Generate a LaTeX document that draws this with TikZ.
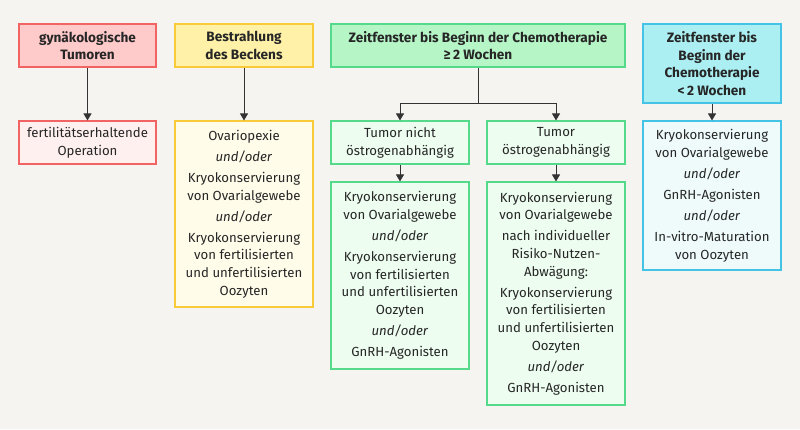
\documentclass[tikz,border=0pt]{standalone}
\usepackage{fontspec}
\setmainfont{Fira Sans}
\usetikzlibrary{arrows.meta}
\definecolor{bg}{HTML}{F5F4F1}
\definecolor{redD}{HTML}{F26464}
\definecolor{redH}{HTML}{FFCACA}
\definecolor{redL}{HTML}{FFF0F0}
\definecolor{yelD}{HTML}{F9CB3A}
\definecolor{yelH}{HTML}{FFF2A8}
\definecolor{yelL}{HTML}{FFFCEA}
\definecolor{grnD}{HTML}{55D98A}
\definecolor{grnH}{HTML}{B6F5C6}
\definecolor{grnL}{HTML}{EDFDF0}
\definecolor{cynD}{HTML}{45C3E6}
\definecolor{cynH}{HTML}{ABEFF3}
\definecolor{cynL}{HTML}{EFFBFB}
\definecolor{lineC}{HTML}{333333}
\newcommand{\uo}{\textit{und/oder}}
\tikzset{
  box/.style={draw, line width=1.1pt, inner sep=0pt, align=center,
    font=\fontsize{13.2}{17.6}\selectfont, text=black!85},
  hdr/.style={box, font=\fontsize{13.6}{17.6}\selectfont\bfseries},
  conn/.style={draw=lineC, line width=0.9pt},
  arr/.style={conn, -{Triangle[length=7pt,width=8pt]}}
}
\begin{document}
\begin{tikzpicture}[x=1pt,y=-1pt]
\fill[bg] (0,0) rectangle (800,429);
\useasboundingbox (0,0) rectangle (800,429);

\node[hdr, fill=redH, draw=redD, minimum width=137pt, minimum height=43pt] (r1) at (87.5,45.5)
  {gynäkologische\\Tumoren};
\node[box, fill=redL, draw=redD, minimum width=137pt, minimum height=43pt] (r2) at (87.5,142.5)
  {fertilitätserhaltende\\Operation};

\node[hdr, fill=yelH, draw=yelD, minimum width=138pt, minimum height=43pt] (y1) at (244,45.5)
  {Bestrahlung\\des Beckens};
\node[box, fill=yelL, draw=yelD, minimum width=138pt, minimum height=186pt] (y2) at (244,214)
  {Ovariopexie\\[3.5pt]\uo\\[3.5pt]Kryokonservierung\\von Ovarialgewebe\\[3.5pt]\uo\\[3.5pt]Kryokonservierung\\von fertilisierten\\und unfertilisierten\\Oozyten};

\node[hdr, fill=grnH, draw=grnD, minimum width=294pt, minimum height=43pt] (g1) at (478,45.5)
  {Zeitfenster bis Beginn der Chemotherapie\\≥\,2 Wochen};
\node[box, fill=grnL, draw=grnD, minimum width=138pt, minimum height=43pt] (g2) at (400,142.5)
  {Tumor nicht\\östrogenabhängig};
\node[box, fill=grnL, draw=grnD, minimum width=138pt, minimum height=43pt] (g3) at (556,142.5)
  {Tumor\\östrogenabhängig};
\node[box, fill=grnL, draw=grnD, minimum width=138pt, minimum height=187pt] (g4) at (400,275.5)
  {Kryokonservierung\\von Ovarialgewebe\\[3.5pt]\uo\\[3.5pt]Kryokonservierung\\von fertilisierten\\und unfertilisierten\\Oozyten\\[3.5pt]\uo\\[3.5pt]GnRH-Agonisten};
\node[box, fill=grnL, draw=grnD, minimum width=138pt, minimum height=223pt] (g5) at (556,293.5)
  {Kryokonservierung\\von Ovarialgewebe\\[3.5pt]nach individueller\\Risiko-Nutzen-\\Abwägung:\\[3.5pt]Kryokonservierung\\von fertilisierten\\und unfertilisierten\\Oozyten\\[3.5pt]\uo\\[3.5pt]GnRH-Agonisten};

\node[hdr, fill=cynH, draw=cynD, minimum width=138pt, minimum height=79pt] (c1) at (712,63.5)
  {Zeitfenster bis\\Beginn der\\Chemotherapie\\<\,2 Wochen};
\node[box, fill=cynL, draw=cynD, minimum width=138pt, minimum height=149pt] (c2) at (712,195.5)
  {Kryokonservierung\\von Ovarialgewebe\\[3.5pt]\uo\\[3.5pt]GnRH-Agonisten\\[3.5pt]\uo\\[3.5pt]In-vitro-Maturation\\von Oozyten};

\coordinate (split) at (478,103);
\draw[arr] (r1) -- (r2);
\draw[arr] (y1) -- (y2);
\draw[conn] (g1.south) -- (split);
\draw[arr] (split) -| (g2.north);
\draw[arr] (split) -| (g3.north);
\draw[arr] (g2) -- (g4);
\draw[arr] (g3) -- (g5);
\draw[arr] (c1) -- (c2);
\end{tikzpicture}
\end{document}
